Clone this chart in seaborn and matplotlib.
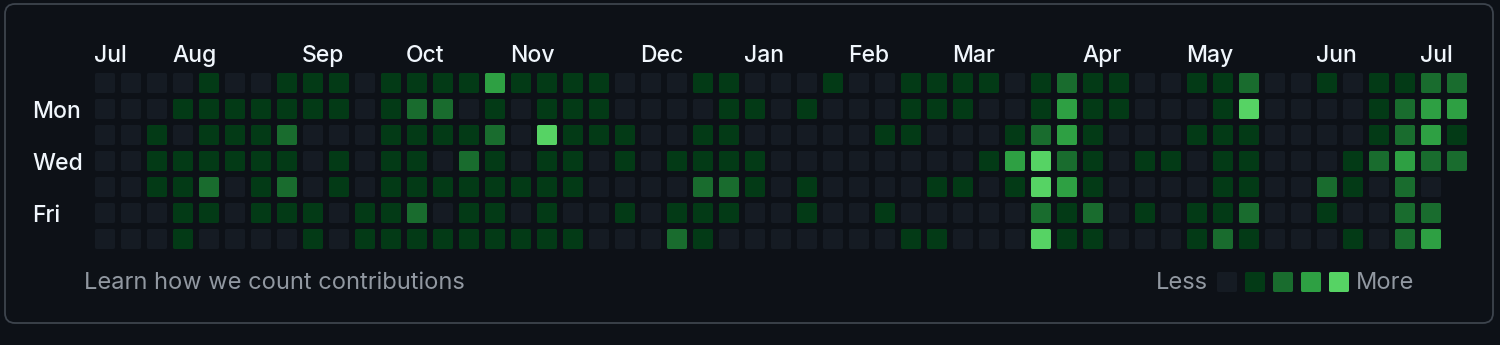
import numpy as np
import pandas as pd
import matplotlib
matplotlib.use("Agg")
import matplotlib.pyplot as plt
import seaborn as sns
from matplotlib.path import Path
from matplotlib.patches import FancyBboxPatch
from matplotlib.transforms import IdentityTransform

# ---------------- data ----------------
months = ["Jul", "Aug", "Sep", "Oct", "Nov", "Dec", "Jan", "Feb", "Mar", "Apr", "May", "Jun", "Jul"]
month_cols = [0, 3, 8, 12, 16, 21, 25, 29, 33, 38, 42, 47, 51]
day_labels = ["Mon", "Wed", "Fri"]
day_rows = [1, 3, 5]

sun = [0,0,0,0,1,0,0,1,1,1, 0,1,1,1,1,3,1,1,1,1, 0,0,0,1,1,0,0,0,1,0, 0,1,1,1,1,0,1,2,1,1, 0,0,1,1,2,0,0,1,0,1, 1,2,2]
mon = [0,0,0,1,1,1,1,1,1,1, 0,1,2,2,0,1,0,1,1,1, 0,0,0,0,1,1,0,1,0,0, 0,1,1,1,0,0,1,3,1,1, 0,0,0,1,4,0,0,0,0,1, 2,3,3]
tue = [0,0,1,0,1,1,1,2,0,0, 0,1,1,1,1,2,0,4,1,1, 1,0,0,1,1,0,0,0,0,0, 1,1,0,0,0,1,2,3,1,0, 0,0,1,1,1,0,0,0,0,1, 2,3,1]
wed = [0,0,1,1,1,1,1,1,0,1, 0,1,1,0,2,1,0,1,1,0, 1,0,1,1,1,1,0,0,0,0, 0,0,0,0,1,3,4,2,1,0, 1,1,0,1,1,0,0,0,1,2, 3,2,2]
thu = [0,0,1,1,2,0,1,2,0,1, 0,1,1,1,1,1,1,1,1,0, 0,0,0,2,2,1,0,1,0,0, 0,0,1,1,0,1,4,3,1,0, 0,0,0,1,1,0,0,2,1,0, 2,0,None]
fri = [0,0,0,1,1,0,1,1,1,0, 1,1,2,0,1,1,0,1,0,0, 1,0,1,1,1,0,0,1,0,0, 1,0,0,0,0,0,2,1,2,0, 1,0,1,1,2,0,0,1,0,0, 2,2,None]
sat = [0,0,0,1,0,0,0,0,1,0, 1,1,1,1,1,1,1,1,1,0, 0,0,2,1,0,0,0,0,0,0, 0,1,1,0,0,0,4,1,1,0, 0,0,1,2,1,0,0,0,1,0, 2,3,None]

legend_levels = [0, 1, 2, 3, 4]

# ---------------- style ----------------
BG = "#0d1117"
BORDER = "#3d444d"
TXT = "#f0f6fc"
MUTED = "#9198a1"
palette = {0: "#151b23", 1: "#033a16", 2: "#196c2e", 3: "#2ea043", 4: "#56d364"}
FONT = ["Inter", "DejaVu Sans"]

sns.set_theme(style="white")
plt.rcParams["font.family"] = FONT

rows = []
for r, week in enumerate([sun, mon, tue, wed, thu, fri, sat]):
    for c, v in enumerate(week):
        if v is not None:
            rows.append({"col": c, "row": r, "level": v})
df = pd.DataFrame(rows)

# rounded square marker
def rounded_square(rad=0.16, n=8):
    verts = []
    corners = [(1 - rad, 1 - rad, 0), (-1 + rad, 1 - rad, 90), (-1 + rad, -1 + rad, 180), (1 - rad, -1 + rad, 270)]
    for cx, cy, a0 in corners:
        for t in np.linspace(np.radians(a0), np.radians(a0 + 90), n):
            verts.append((cx + rad * np.cos(t), cy + rad * np.sin(t)))
    verts.append(verts[0])
    codes = [Path.MOVETO] + [Path.LINETO] * (len(verts) - 2) + [Path.CLOSEPOLY]
    return Path(verts, codes)

marker = rounded_square()

W, H = 1500, 345
X0, Y0, P = 105.0, 83.0, 26.0  # pixel center of first cell and pitch
cell_px = 20.0
s_pts = (cell_px * 72 / 100) ** 2

def dx(px):
    return (px - X0) / P

def dy(py):
    return (py - Y0) / P

fig = plt.figure(figsize=(W / 100, H / 100), dpi=100, facecolor=BG)
ax = fig.add_axes([0, 0, 1, 1])
ax.set_facecolor(BG)

sns.scatterplot(data=df, x="col", y="row", hue="level", palette=palette,
                marker=marker, s=s_pts, linewidth=0, edgecolor="none",
                legend=False, ax=ax)

# legend squares
leg_df = pd.DataFrame({"col": [dx(1227 + 28 * i) for i in range(len(legend_levels))],
                       "row": [dy(282)] * len(legend_levels),
                       "level": legend_levels})
sns.scatterplot(data=leg_df, x="col", y="row", hue="level", palette=palette,
                marker=marker, s=s_pts, linewidth=0, edgecolor="none",
                legend=False, ax=ax)

ax.set_xlim(dx(0), dx(W))
ax.set_ylim(dy(H), dy(0))
ax.set_axis_off()

# month labels
for m, c in zip(months, month_cols):
    ax.text(c - 11 / P, dy(62), m, color=TXT, fontsize=16.5, fontweight="medium",
            ha="left", va="baseline")

# day labels
for d, r in zip(day_labels, day_rows):
    ax.text(dx(32), r + 8.5 / P, d, color=TXT, fontsize=16.5, fontweight="medium",
            ha="left", va="baseline")

ax.text(dx(84), dy(289), "Learn how we count contributions", color=MUTED,
        fontsize=17, ha="left", va="baseline")
ax.text(dx(1156), dy(289), "Less", color=MUTED, fontsize=17, ha="left", va="baseline")
ax.text(dx(1356), dy(289), "More", color=MUTED, fontsize=17, ha="left", va="baseline")

# outer rounded border
border = FancyBboxPatch((5, H - 323), 1488, 319,
                        boxstyle="round,pad=0,rounding_size=10",
                        transform=IdentityTransform(), facecolor="none",
                        edgecolor=BORDER, linewidth=1.3)
fig.patches.append(border)

fig.savefig("out.png", dpi=100, facecolor=BG)
